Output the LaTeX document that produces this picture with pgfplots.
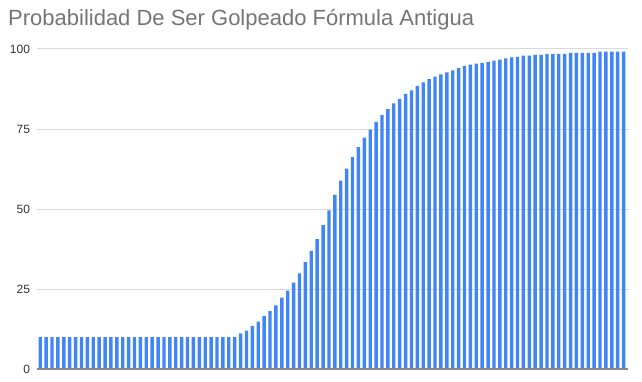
\documentclass[border=0pt]{standalone}
\usepackage{fontspec}
\setmainfont{Liberation Sans}
\usepackage{pgfplots}
\pgfplotsset{compat=1.18}
\definecolor{barblue}{HTML}{4285F4}
\definecolor{titlegray}{HTML}{757575}
\definecolor{gridgray}{HTML}{D9D9D9}
\definecolor{ticktext}{HTML}{333333}
\definecolor{zeroline}{HTML}{888888}
\begin{document}
\begin{tikzpicture}
\useasboundingbox (-36.7pt,-12pt) rectangle (605.3pt,369pt);
\begin{axis}[
  at={(0pt,0pt)}, anchor=south west,
  scale only axis, width=591pt, height=320pt,
  xmin=-0.6, xmax=99.7, ymin=0, ymax=100,
  axis lines*=left, axis line style={draw=none},
  ytick={0,25,50,75,100}, xtick=\empty,
  ymajorgrids, grid style={gridgray, line width=1pt},
  major tick length=0pt,
  /pgf/number format/assume math mode=true,
  yticklabel style={font=\fontsize{12}{12}\selectfont, text=ticktext, anchor=east, inner sep=0pt, xshift=-6.5pt},
  clip=false,
]
\addplot[ybar, bar shift=0pt, bar width=3.4pt, fill=barblue, draw=none] coordinates {
(0,10)(1,10)(2,10)(3,10)(4,10)(5,10)(6,10)(7,10)(8,10)(9,10)
(10,10)(11,10)(12,10)(13,10)(14,10)(15,10)(16,10)(17,10)(18,10)(19,10)
(20,10)(21,10)(22,10)(23,10)(24,10)(25,10)(26,10)(27,10)(28,10)(29,10)
(30,10)(31,10)(32,10)(33,10)(34,11.1)(35,12.0)(36,13.5)(37,14.8)(38,16.6)(39,18.1)
(40,19.9)(41,22.3)(42,24.5)(43,27.0)(44,29.9)(45,33.4)(46,36.9)(47,40.6)(48,45.0)(49,49.6)
(50,54.4)(51,58.9)(52,62.6)(53,66.2)(54,69.3)(55,72.3)(56,74.8)(57,77.2)(58,79.3)(59,81.2)
(60,83.0)(61,84.4)(62,86.0)(63,87.1)(64,88.5)(65,89.6)(66,90.6)(67,91.4)(68,92.1)(69,92.7)
(70,93.3)(71,94.0)(72,94.7)(73,95.1)(74,95.4)(75,95.7)(76,96.0)(77,96.4)(78,96.7)(79,97.1)
(80,97.4)(81,97.5)(82,97.9)(83,97.9)(84,98.2)(85,98.2)(86,98.5)(87,98.5)(88,98.5)(89,98.5)
(90,98.8)(91,98.8)(92,98.8)(93,98.8)(94,98.8)(95,99.2)(96,99.2)(97,99.2)(98,99.2)(99,99.2)
};
\draw[zeroline, line width=1.5pt] (axis cs:-0.6,0) -- (axis cs:99.7,0);
\end{axis}
\node[anchor=base west, inner sep=0pt, text=titlegray, font=\fontsize{22}{22}\selectfont] at (-28.7pt,343pt) {Probabilidad De Ser Golpeado Fórmula Antigua};
\end{tikzpicture}
\end{document}
